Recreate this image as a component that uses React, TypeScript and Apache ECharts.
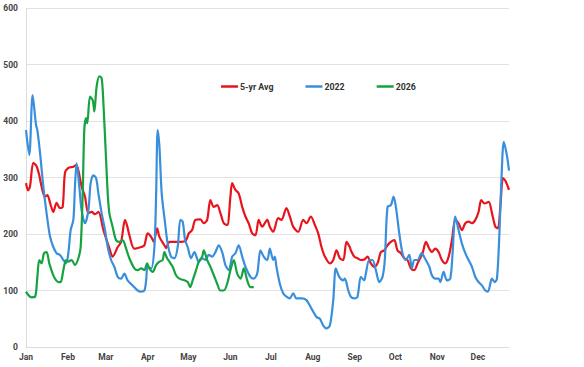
import React, { useEffect, useRef } from "react";
import * as echarts from "echarts";

// Day-of-year (0 = Jan 1) and value pairs for each series
const avg5yr: [number, number][] = [
  [0, 290], [1.5, 277], [3, 285], [5.4, 326], [7.8, 320], [9.8, 304], [11.5, 284], [14, 266], [15.8, 269],
  [17.8, 255], [20.2, 239], [22.6, 255], [25.1, 246], [27.1, 248], [28.8, 308], [31.3, 317], [35, 319],
  [37, 322], [38.7, 313], [41.1, 284], [43.6, 266], [46.1, 237], [48.5, 239], [51, 235], [53.5, 239],
  [57.2, 207], [59.6, 189], [61.6, 175], [64, 160], [67.8, 177], [70.3, 186], [73.2, 225], [74.9, 213],
  [76.4, 198], [80.1, 174], [85.1, 177], [87.5, 180], [89.9, 201], [92.5, 195], [94.4, 186], [96.9, 210],
  [98.6, 195], [102.3, 180], [103.6, 175], [106, 186], [109.7, 186], [114.6, 186], [118.3, 189], [120.3, 201],
  [122.8, 207], [125.2, 225], [128.9, 226], [131.4, 219], [133.9, 225], [136.3, 260], [138.8, 248],
  [141.3, 251], [143.7, 237], [146.2, 219], [148.7, 216], [151.1, 266], [152.4, 290], [154.8, 278],
  [157.2, 272], [159.8, 248], [162.2, 231], [164.6, 219], [167.2, 201], [169.6, 198], [172, 225],
  [174.6, 213], [178.3, 225], [180.2, 213], [182.7, 204], [186.4, 228], [188.8, 225], [192.5, 246],
  [195, 231], [197.5, 213], [201.2, 204], [204.9, 225], [207.3, 219], [210.5, 231], [213.5, 216], [216, 201],
  [218.4, 177], [220.9, 160], [224.6, 148], [227.1, 154], [229.5, 171], [232, 157], [234.5, 154],
  [236.9, 186], [239.3, 177], [240.1, 171], [242.6, 160], [245, 157], [247.5, 154], [250, 155], [252.4, 160],
  [254.9, 148], [257.4, 142], [259.8, 148], [262.3, 168], [264.8, 171], [267.2, 180], [269.7, 186],
  [272.2, 189], [274.6, 171], [277.1, 166], [279.6, 157], [282, 154], [284.5, 139], [287, 136], [289.4, 148],
  [293.1, 166], [295.6, 186], [298.1, 174], [300, 168], [302.5, 174], [305, 168], [307.4, 154], [309.9, 148],
  [312.4, 160], [314.8, 189], [317.3, 225], [319.7, 219], [322.2, 207], [324.7, 219], [327.1, 222],
  [329.6, 219], [332.1, 225], [334.5, 239], [336.5, 260], [339, 254], [342, 257], [344.4, 237], [346.9, 213],
  [348.8, 210], [350.6, 248], [352.6, 299], [354.6, 293], [357, 278],
];

const y2022: [number, number][] = [
  [0, 384], [2.4, 340], [4.9, 446], [7.4, 393], [8.4, 384], [10.4, 343], [12.8, 284], [15.2, 237], [17.8, 195],
  [20.2, 177], [22.6, 166], [25.1, 163], [27.6, 154], [29.6, 148], [31.3, 166], [33, 207], [35, 225],
  [36.2, 284], [37.4, 325], [39.4, 284], [41.1, 242], [43.6, 219], [46.1, 242], [47.8, 290], [49.8, 304],
  [51.8, 299], [53.5, 272], [55.9, 237], [58.4, 207], [60.4, 177], [62.9, 154], [65.3, 142], [67.8, 124],
  [70.3, 121], [72.7, 130], [75.1, 118], [78.8, 109], [82.5, 100], [85.1, 98], [87.5, 100], [88.8, 118],
  [89.9, 142], [92.5, 139], [94.9, 177], [96.2, 272], [97.3, 384], [98.6, 355], [100.3, 272], [102.8, 219],
  [104.7, 183], [107.2, 160], [109.7, 157], [112.1, 177], [114.1, 225], [115.8, 222], [117.6, 189],
  [119.5, 177], [122, 157], [124.5, 168], [127.7, 151], [130.2, 157], [132.6, 154], [135.1, 163],
  [137.6, 160], [140, 168], [142.5, 180], [145, 168], [147.4, 145], [149.9, 136], [152.4, 160], [154.8, 166],
  [157.2, 180], [159.8, 160], [162.2, 142], [165.9, 124], [168.3, 121], [170.9, 130], [173.3, 171],
  [175.7, 160], [178.3, 154], [180.2, 174], [182.7, 154], [183.9, 160], [185.1, 142], [187.6, 112],
  [190.1, 95], [192.5, 89], [195, 86], [197.5, 95], [199.9, 86], [203.6, 86], [207.3, 83], [211, 68],
  [214.7, 53], [217.2, 50], [219.7, 38], [222.1, 33], [224.6, 38], [227.1, 83], [229, 139], [231.5, 124],
  [234.5, 118], [235.7, 121], [238.2, 100], [240.1, 89], [242.6, 86], [245, 89], [247.5, 124], [250, 118],
  [251.2, 130], [253.7, 154], [256.1, 154], [258.6, 136], [261.1, 115], [263.5, 124], [265.2, 154],
  [267.2, 248], [269.7, 251], [271.7, 266], [273.4, 248], [275.9, 201], [278.3, 166], [280.7, 154],
  [283.3, 163], [285.2, 139], [287, 154], [289.4, 154], [292.4, 166], [294.8, 157], [298.1, 142], [300, 127],
  [302.5, 121], [305, 121], [306.2, 115], [308.7, 133], [311.1, 118], [313.6, 121], [315.3, 166],
  [317.3, 231], [319.7, 207], [322.2, 183], [324.7, 166], [327.1, 154], [329.6, 142], [332.1, 124],
  [334.5, 115], [337, 109], [339.5, 100], [341.4, 98], [344.4, 121], [346.4, 115], [348.1, 121],
  [349.9, 201], [351.4, 296], [353.2, 363], [355.6, 337], [357, 312],
];

const y2026: [number, number][] = [
  [0, 98], [1.7, 92], [4.1, 88], [6.7, 89], [8.4, 124], [9.8, 154], [11.5, 148], [13.3, 166], [15.2, 168],
  [17.2, 148], [19.7, 130], [21.4, 121], [23.9, 115], [25.6, 115], [27.6, 136], [29.6, 154], [31.3, 151],
  [33.7, 154], [36.2, 145], [38.7, 157], [40.4, 177], [41.9, 272], [43.1, 385], [44.4, 405], [45.3, 396],
  [47.3, 443], [49.3, 437], [50.5, 417], [52.2, 461], [54.2, 479], [55.9, 476], [57.2, 432], [59.2, 331],
  [60.4, 272], [61.6, 237], [64, 213], [66.6, 189], [69, 186], [71.4, 189], [74, 174], [76.4, 157],
  [80.1, 139], [82.5, 136], [85.1, 139], [87.5, 136], [89.5, 148], [91.2, 139], [93.6, 133], [96.2, 145],
  [98.6, 151], [101, 154], [102.3, 168], [104.3, 157], [106, 151], [108.4, 142], [110.9, 127], [113.4, 121],
  [117.1, 118], [119.5, 115], [121.3, 106], [123.2, 118], [125.7, 136], [127.7, 151], [130.2, 160],
  [131.4, 171], [133.9, 154], [136.3, 142], [138.8, 127], [141.3, 112], [143.7, 100], [146.2, 100],
  [148.7, 112], [151.1, 136], [153.6, 154], [156.1, 130], [158.6, 121], [161, 139], [163.5, 118],
  [165.9, 106], [168.3, 106],
];

const monthNames = ["Jan", "Feb", "Mar", "Apr", "May", "Jun", "Jul", "Aug", "Sep", "Oct", "Nov", "Dec"];
const monthStartDays = [0, 31, 59, 90, 120, 151, 181, 212, 243, 273, 304, 334];
const lastDay = 357;

const seriesNames = ["5-yr Avg", "2022", "2026"];
const seriesColors = ["#e8141b", "#3a8fdc", "#16a240"];

export default function App() {
  const ref = useRef<HTMLDivElement>(null);

  useEffect(() => {
    document.body.style.margin = "0";
    if (!ref.current) return;
    const chart = echarts.init(ref.current, undefined, { renderer: "svg" });
    const datasets = [avg5yr, y2022, y2026];
    const labelFont = {
      fontFamily: "Roboto, 'Noto Sans', sans-serif",
      fontWeight: "bold" as const,
      fontSize: 8.5,
      color: "#444",
    };
    chart.setOption({
      animation: false,
      backgroundColor: "#fff",
      grid: { left: 26, right: 75, top: 8, bottom: 20 },
      legend: {
        data: seriesNames,
        left: 216,
        top: 77,
        icon: "rect",
        itemWidth: 17,
        itemHeight: 2.5,
        itemGap: 32,
        textStyle: { ...labelFont, fontSize: 8.8, color: "#333", padding: [0, 0, 0, -3] },
      },
      xAxis: {
        type: "value",
        min: 0,
        max: lastDay,
        axisLine: { show: true, lineStyle: { color: "#dcdcdc", width: 1 } },
        axisTick: { show: false },
        splitLine: { show: false },
        axisLabel: {
          ...labelFont,
          margin: 5,
          customValues: monthStartDays,
          formatter: (v: number) => monthNames[monthStartDays.indexOf(v)] ?? "",
        },
      },
      yAxis: {
        type: "value",
        min: 0,
        max: 600,
        interval: 100,
        axisLine: { show: true, lineStyle: { color: "#dcdcdc", width: 1 } },
        axisTick: { show: false },
        splitLine: { show: true, lineStyle: { color: "#e2e2e2", width: 1 } },
        axisLabel: { ...labelFont, margin: 8 },
      },
      series: seriesNames.map((name, i) => ({
        name,
        type: "line",
        data: datasets[i],
        showSymbol: false,
        smooth: 0.3,
        lineStyle: { color: seriesColors[i], width: 2.2 },
        itemStyle: { color: seriesColors[i] },
      })),
    });
    return () => chart.dispose();
  }, []);

  return <div ref={ref} style={{ width: 584, height: 367 }} />;
}
